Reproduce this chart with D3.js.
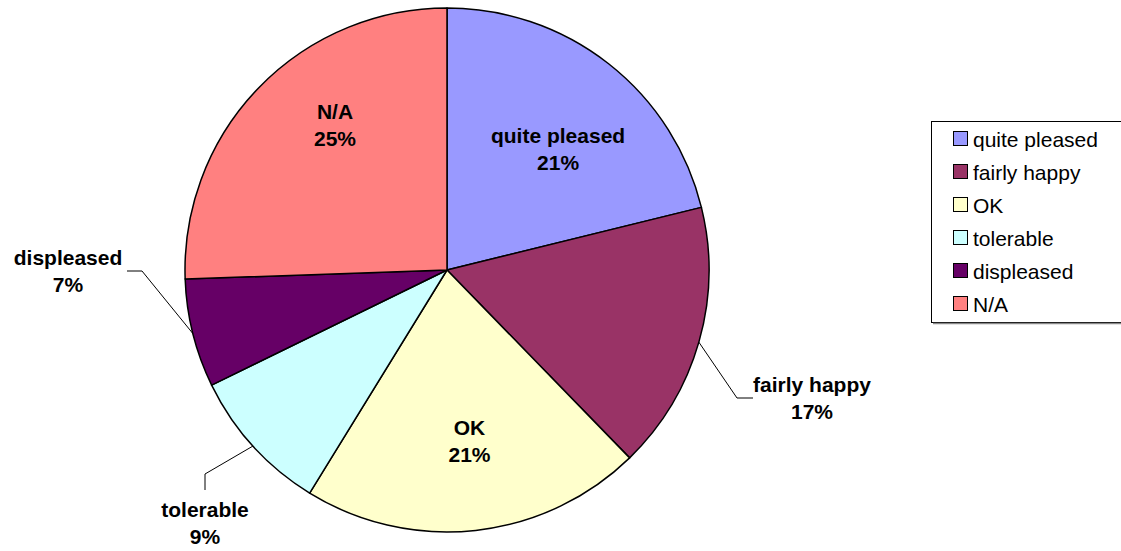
<!DOCTYPE html>
<html>
<head>
<meta charset="utf-8">
<script src="https://cdn.jsdelivr.net/npm/d3@7/dist/d3.min.js"></script>
<style>
  html, body { margin: 0; padding: 0; background: #fff; }
  svg { display: block; }
  text { font-family: "Liberation Sans", Arial, sans-serif; }
</style>
</head>
<body>
<svg id="chart" width="1121" height="551"></svg>
<script>
// ---- data ----
const categories = ["quite pleased", "fairly happy", "OK", "tolerable", "displeased", "N/A"];
const values = [21.2, 16.6, 21.1, 9.0, 6.7, 25.6];
const percentLabels = ["21%", "17%", "21%", "9%", "7%", "25%"];
const colors = ["#9999FF", "#993366", "#FFFFCC", "#CCFFFF", "#660066", "#FF8080"];

// ---- layout ----
const W = 1121, H = 551;
const cx = 447, cy = 270, R = 262;
// label placement: "in" = inside at radius factor; "out" = leader line
const labelLayout = [
  { mode: "in", r: 0.645, dAngle: 3 },
  { mode: "out", elbow: [290, 128], end: [306, 128], text: [365, 122] },
  { mode: "in", r: 0.635, dAngle: -1.5 },
  { mode: "out", elbow: [-242, 204], end: [-242, 220], text: [-242, 247] },
  { mode: "out", elbow: [-305, 1], end: [-320, 1], text: [-379, -5] },
  { mode: "in", r: 0.717, dAngle: 9.4 }
];

const svg = d3.select("#chart");
const data = categories.map((c, i) => ({ name: c, value: values[i], pct: percentLabels[i], color: colors[i], i }));

const pie = d3.pie().sort(null).value(d => d.value);
const arcs = pie(data);
const arc = d3.arc().innerRadius(0).outerRadius(R);

const g = svg.append("g").attr("transform", `translate(${cx},${cy})`);

g.selectAll("path.slice")
  .data(arcs)
  .enter().append("path")
  .attr("class", "slice")
  .attr("d", arc)
  .attr("fill", d => d.data.color)
  .attr("stroke", "#000")
  .attr("stroke-width", 1.5)
  .attr("stroke-linejoin", "round");

const FS = 21;
function polar(angleDeg, r) {
  const a = angleDeg * Math.PI / 180;
  return [Math.sin(a) * r, -Math.cos(a) * r];
}

arcs.forEach((a, i) => {
  const L = labelLayout[i];
  const mid = (a.startAngle + a.endAngle) / 2 * 180 / Math.PI;
  let tx, ty;
  if (L.mode === "in") {
    [tx, ty] = polar(mid + L.dAngle, R * L.r);
  } else {
    const p0 = polar(mid, R);
    g.append("polyline")
      .attr("points", [p0, L.elbow, L.end].map(p => p.join(",")).join(" "))
      .attr("fill", "none")
      .attr("stroke", "#000")
      .attr("stroke-width", 1);
    [tx, ty] = L.text;
  }
  const t = g.append("text")
    .attr("text-anchor", "middle")
    .attr("font-weight", "bold")
    .attr("font-size", FS)
    .attr("fill", "#000");
  t.append("tspan").attr("x", tx).attr("y", ty).text(a.data.name);
  t.append("tspan").attr("x", tx).attr("y", ty + 27).text(a.data.pct);
});

// ---- legend ----
const lg = svg.append("g").attr("transform", "translate(931,121)");
lg.append("rect")
  .attr("x", 0.5).attr("y", 0.5)
  .attr("width", 200).attr("height", 201)
  .attr("fill", "#fff")
  .attr("stroke", "#000")
  .attr("stroke-width", 1);
lg.append("line")
  .attr("x1", 2).attr("x2", 200).attr("y1", 202.5).attr("y2", 202.5)
  .attr("stroke", "#888").attr("stroke-width", 1.5);

const rowY = d3.scalePoint().domain(categories).range([18, 183]);
const items = lg.selectAll("g.item").data(data).enter().append("g")
  .attr("class", "item")
  .attr("transform", d => `translate(0,${rowY(d.name)})`);
items.append("rect")
  .attr("x", 22.5).attr("y", -7.5)
  .attr("width", 14).attr("height", 14)
  .attr("fill", d => d.color)
  .attr("stroke", "#000").attr("stroke-width", 1);
items.append("text")
  .attr("x", 42).attr("y", 7.5)
  .attr("font-size", FS)
  .attr("fill", "#000")
  .text(d => d.name);
</script>
</body>
</html>
